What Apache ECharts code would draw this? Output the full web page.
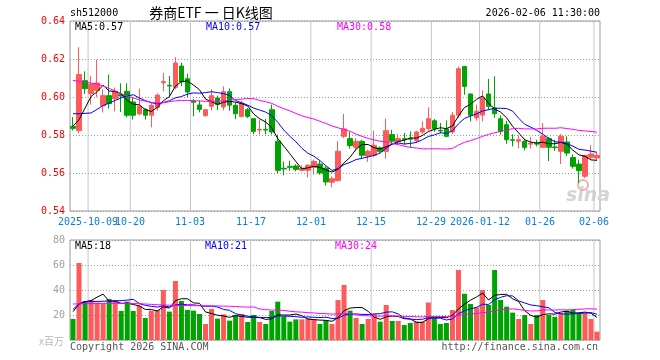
<!DOCTYPE html>
<html><head><meta charset="utf-8">
<script src="https://cdn.jsdelivr.net/npm/echarts@6/dist/echarts.min.js"></script>
<style>html,body{margin:0;padding:0;background:#fff}#c{width:660px;height:360px}</style>
</head><body><div id="c"></div>
<script>
const dates = ['2025-09-26','2025-09-29','2025-09-30','2025-10-09','2025-10-10','2025-10-13','2025-10-14','2025-10-15','2025-10-16','2025-10-17',
'2025-10-20','2025-10-21','2025-10-22','2025-10-23','2025-10-24','2025-10-27','2025-10-28','2025-10-29','2025-10-30','2025-10-31',
'2025-11-03','2025-11-04','2025-11-05','2025-11-06','2025-11-07','2025-11-10','2025-11-11','2025-11-12','2025-11-13','2025-11-14',
'2025-11-17','2025-11-18','2025-11-19','2025-11-20','2025-11-21','2025-11-24','2025-11-25','2025-11-26','2025-11-27','2025-11-28',
'2025-12-01','2025-12-02','2025-12-03','2025-12-04','2025-12-05','2025-12-08','2025-12-09','2025-12-10','2025-12-11','2025-12-12',
'2025-12-15','2025-12-16','2025-12-17','2025-12-18','2025-12-19','2025-12-22','2025-12-23','2025-12-24','2025-12-25','2025-12-26',
'2025-12-29','2025-12-30','2025-12-31','2026-01-05','2026-01-06','2026-01-07','2026-01-08','2026-01-09',
'2026-01-12','2026-01-13','2026-01-14','2026-01-15','2026-01-16','2026-01-19','2026-01-20','2026-01-21','2026-01-22','2026-01-23',
'2026-01-26','2026-01-27','2026-01-28','2026-01-29','2026-01-30','2026-02-02','2026-02-03','2026-02-04','2026-02-05','2026-02-06'];

const opens = [.5845,.5823,.6086,.6018,.6035,.5954,.6007,.5991,.6012,.6030,
.5974,.5911,.5933,.5904,.5945,.6075,.6062,.6051,.6163,.6096,
.5978,.5958,.5902,.5951,.5995,.5948,.6028,.5956,.5898,.5933,
.5886,.5826,.5830,.5933,.5767,.5625,.5635,.5637,.5614,.5614,
.5630,.5647,.5626,.5551,.5560,.5793,.5781,.5735,.5767,.5689,
.5693,.5732,.5714,.5802,.5765,.5781,.5782,.5770,.5816,.5833,
.5875,.5825,.5832,.5816,.5904,.6160,.6016,.5890,.5905,.6016,
.5942,.5886,.5854,.5775,.5767,.5767,.5752,.5755,.5735,.5781,
.5737,.5714,.5763,.5681,.5647,.5583,.5683,.5679];
const closes = [.5835,.6118,.6044,.6068,.6074,.6007,.5965,.6030,.6005,.5904,
.5904,.5951,.5904,.5956,.6010,.6081,.6058,.6179,.6079,.6026,
.5972,.5935,.5933,.6007,.5960,.6028,.5957,.5912,.5968,.5898,
.5819,.5830,.5826,.5816,.5614,.5621,.5630,.5619,.5626,.5640,
.5661,.5600,.5553,.5570,.5714,.5832,.5744,.5767,.5693,.5714,
.5746,.5714,.5823,.5767,.5781,.5775,.5778,.5816,.5835,.5886,
.5833,.5821,.5793,.5904,.6149,.6056,.5904,.5925,.5995,.5951,
.5912,.5819,.5775,.5772,.5775,.5735,.5756,.5752,.5793,.5735,
.5733,.5793,.5705,.5635,.5612,.5693,.5700,.5693];
const lows = [.5824,.5809,.6016,.5960,.6000,.5918,.5939,.5925,.5921,.5893,
.5881,.5904,.5881,.5840,.5928,.6030,.6002,.6042,.6058,.5998,
.5898,.5919,.5896,.5930,.5932,.5930,.5927,.5884,.5893,.5889,
.5805,.5803,.5803,.5803,.5600,.5588,.5612,.5609,.5609,.5577,
.5591,.5591,.5535,.5525,.5556,.5784,.5728,.5714,.5679,.5658,
.5683,.5705,.5675,.5753,.5746,.5749,.5733,.5758,.5805,.5823,
.5816,.5809,.5788,.5805,.5890,.6012,.5872,.5875,.5872,.5933,
.5890,.5802,.5753,.5740,.5730,.5719,.5728,.5740,.5732,.5663,
.5716,.5647,.5689,.5623,.5547,.5574,.5670,.5665];
const highs = [.5895,.6262,.6135,.6110,.6196,.6039,.6118,.6050,.6072,.6072,
.5998,.6044,.5942,.5968,.6019,.6126,.6111,.6209,.6181,.6123,
.5990,.5982,.5938,.6040,.6007,.6056,.6045,.5970,.5981,.5942,
.5889,.5881,.5884,.5960,.5802,.5660,.5665,.5646,.5640,.5647,
.5670,.5665,.5635,.5582,.5767,.5911,.5816,.5784,.5775,.5723,
.5823,.5740,.5886,.5828,.5805,.5811,.5819,.5823,.5872,.5946,
.5884,.5863,.5877,.5921,.6161,.6164,.6016,.5960,.6035,.6095,
.6109,.5903,.5875,.5803,.5798,.5781,.5788,.5775,.5863,.5788,
.5775,.5805,.5793,.5698,.5670,.5696,.5746,.5707];
const volumes = [16.8,61.6,31.2,32,29.9,28.8,32.8,32,23.2,30.7,
23.2,27.5,17.6,23.5,24,40,22.7,47.2,31.2,24,
23.5,20.8,12.8,24.8,17.1,20.5,15.5,20,20.8,14.4,
20,14.4,12.8,23.2,30.7,18.7,14.7,16.5,16.5,17.3,
16.5,12.8,15.5,12.8,32,44,23.5,17.6,12.8,16.8,
20.8,14.7,28,15.2,15.2,12,13.6,14.7,14.7,30,
18.1,12.8,13.6,24,56,37,28.8,26.1,40,28,
56,32,26.7,21.9,16.8,20,12.8,20,32,20,
18.5,21.3,23.5,24,21.5,21.3,16.8,6.7];

// MA values before the window is full
const ma5Lead = [.5846,.5881,.5942,.6003];
const ma10Lead = [.5912,.5912,.5914,.5916,.5935,.5955,.5968,.5982,.5995];
const ma30Lead = [.6087,.6083,.6078,.6073,.6068,.6058,.6045,.6032,.6018,.6005,.5995,.5985,.5978,.5972,.5968,.5970,.5975,.5980,.5982,.5982,.5981,.5979,.5977,.5977,.5978,.5980,.5983,.5986,.5989];
const volMa5Lead = [22.7,28.8,30.7,31.5];
const volMa10Lead = [24.5,29,30.5,30.7,30.9,31,31.2,31.3,31.5];
const volMa30Lead = [28.8,28.9,29,29.1,29.2,29.3,29.3,29.3,29.3,29.3,29.2,29,28.8,28.5,28.2,28,27.8,27.7,27.6,27.6,27.5,27.5,27.4,27.3,27.2,27.1,27,26.8,26.5];

const tickDates = ['2025-10-09','2025-10-20','2025-11-03','2025-11-17','2025-12-01','2025-12-15','2025-12-29','2026-01-12','2026-01-26','2026-02-06'];
const tickTexts = ['2025-10-09','10-20','11-03','11-17','12-01','12-15','12-29','2026-01-12','01-26','02-06'];
const priceTicks = [0.54,0.56,0.58,0.60,0.62,0.64];
const volTicks = [0,20,40,60,80];

const titleCode = 'sh512000';
const titleText = '券商ETF 一 日K线图';
const timeText = '2026-02-06 11:30:00';
const priceLegend = ['MA5:0.57','MA10:0.57','MA30:0.58'];
const volLegend = ['MA5:18','MA10:21','MA30:24'];
const unitText = 'x百万';
const copyText = 'Copyright 2026 SINA.COM';
const urlText = 'http://finance.sina.com.cn';

function rolling(src, n, lead) {
  return src.map((_, i) => {
    if (i < n - 1) return lead[i];
    let s = 0; for (let k = i - n + 1; k <= i; k++) s += src[k];
    return +(s / n).toFixed(5);
  });
}
const ma5 = rolling(closes, 5, ma5Lead), ma10 = rolling(closes, 10, ma10Lead), ma30 = rolling(closes, 30, ma30Lead);
const vma5 = rolling(volumes, 5, volMa5Lead), vma10 = rolling(volumes, 10, volMa10Lead), vma30 = rolling(volumes, 30, volMa30Lead);

const RED = '#ff5a5a', GREEN = '#00a400';
const MONO = "'DejaVu Sans Mono', monospace";
const candleData = dates.map((d, i) => [opens[i], closes[i], lows[i], highs[i]]);
const volData = dates.map((d, i) => ({ value: volumes[i], itemStyle: { color: closes[i] >= opens[i] ? RED : GREEN } }));

const tickIdx = tickDates.map(d => dates.indexOf(d));

const catAxis = (gridIndex) => ({
  type: 'category', gridIndex, data: dates, boundaryGap: true,
  axisLine: { show: false }, axisTick: { show: false }, splitLine: { show: false }, axisLabel: { show: false }
});
// hidden value axis spanning the same day slots: date separators sit on slot boundaries
const slotAxis = (gridIndex) => ({ type: 'value', gridIndex, min: -0.5, max: dates.length - 0.5, show: false });

// date labels under the price panel
const labelSeries = {
  type: 'custom', xAxisIndex: 2, yAxisIndex: 0, clip: false, silent: true, z: 6,
  data: tickIdx.map((i, k) => [i - 0.5, priceTicks[0], k]),
  encode: { x: 0, y: 1 },
  renderItem: (params, api) => {
    const cs = params.coordSys;
    const x = Math.round(api.coord([api.value(0), api.value(1)])[0]);
    return { type: 'text', x: x, y: cs.y + cs.height + 11,
      style: { text: tickTexts[api.value(2)], fill: '#0a7fd4', font: '10px ' + MONO, textAlign: 'center', textVerticalAlign: 'middle' } };
  }
};
// date separators: 1px bars standing on the slot boundaries of each panel
const sepBar = (xi, yi, ticks) => ({
  type: 'bar', xAxisIndex: xi, yAxisIndex: yi, silent: true, z: 3, barWidth: 1,
  data: tickIdx.map(i => [i - 0.5, ticks[ticks.length - 1]]),
  itemStyle: { color: '#c6c6c6' }
});
const lineS = (name, data, color, xi, yi) => ({ name, type: 'line', data, xAxisIndex: xi, yAxisIndex: yi, showSymbol: false, symbol: 'none', silent: true, lineStyle: { color, width: 1 }, z: 5 });

const txt = (x, y, text, fill, font, align) => ({ type: 'text', x, y, silent: true, z: 10, style: { text, fill, font, textAlign: align || 'left', textVerticalAlign: 'middle' } });

const chart = echarts.init(document.getElementById('c'), null, { renderer: 'canvas' });
chart.setOption({
  animation: false,
  backgroundColor: '#ffffff',
  grid: [
    { left: 70, top: 21, width: 530, height: 190, show: true, backgroundColor: 'transparent', borderColor: '#9a9a9a', borderWidth: 1 },
    { left: 70, top: 240, width: 530, height: 100, show: true, backgroundColor: 'transparent', borderColor: '#9a9a9a', borderWidth: 1 }
  ],
  xAxis: [catAxis(0), catAxis(1), slotAxis(0), slotAxis(1)],
  yAxis: [
    { type: 'value', gridIndex: 0, min: priceTicks[0], max: priceTicks[priceTicks.length - 1], interval: 0.02,
      axisLine: { show: false }, axisTick: { show: false },
      axisLabel: { color: '#ff0000', fontFamily: MONO, fontSize: 10, margin: 5, formatter: v => v.toFixed(2) },
      splitLine: { lineStyle: { color: '#999999', type: [1, 2] } } },
    { type: 'value', gridIndex: 1, min: volTicks[0], max: volTicks[volTicks.length - 1], interval: 20,
      axisLine: { show: false }, axisTick: { show: false },
      axisLabel: { color: '#a0a0a0', fontFamily: MONO, fontSize: 10, margin: 5, formatter: v => v === 0 ? '' : String(v) },
      splitLine: { lineStyle: { color: '#999999', type: [1, 2] } } }
  ],
  series: [
    labelSeries, sepBar(2, 0, priceTicks), sepBar(3, 1, volTicks),
    { type: 'candlestick', xAxisIndex: 0, yAxisIndex: 0, data: candleData, barWidth: 5, silent: true, z: 4,
      itemStyle: { color: RED, color0: GREEN, borderColor: RED, borderColor0: GREEN, borderWidth: 1 } },
    lineS('MA5', ma5, '#000000', 0, 0),
    lineS('MA10', ma10, '#0000ff', 0, 0),
    lineS('MA30', ma30, '#ff00ff', 0, 0),
    { type: 'bar', xAxisIndex: 1, yAxisIndex: 1, data: volData, barWidth: 5, silent: true, z: 4 },
    lineS('VMA5', vma5, '#000000', 1, 1),
    lineS('VMA10', vma10, '#0000ff', 1, 1),
    lineS('VMA30', vma30, '#ff00ff', 1, 1)
  ],
  graphic: [
    txt(70, 13, titleCode, '#000', '10px ' + MONO),
    txt(211, 13, titleText, '#000', "14px 'Noto Sans CJK SC'", 'center'),
    txt(600, 13, timeText, '#000', '10px ' + MONO, 'right'),
    txt(75, 27, priceLegend[0], '#000000', '10px ' + MONO),
    txt(206, 27, priceLegend[1], '#0000ff', '10px ' + MONO),
    txt(337, 27, priceLegend[2], '#ff00ff', '10px ' + MONO),
    txt(75, 246, volLegend[0], '#000000', '10px ' + MONO),
    txt(205, 246, volLegend[1], '#0000ff', '10px ' + MONO),
    txt(335, 246, volLegend[2], '#ff00ff', '10px ' + MONO),
    txt(64, 341, unitText, '#b8b8b8', "10px 'Noto Sans CJK SC'", 'right'),
    txt(70, 347, copyText, '#555555', '10px ' + MONO),
    txt(598, 347, urlText, '#555555', '10px ' + MONO, 'right'),
    { type: 'text', x: 566, y: 196, silent: true, style: { text: 'sina', fill: '#d4d4d4', font: "italic bold 19px 'DejaVu Sans'", textVerticalAlign: 'middle' } },
    { type: 'circle', shape: { cx: 583, cy: 185, r: 5 }, silent: true, style: { fill: 'none', stroke: '#eab0b0', lineWidth: 2 } }
  ]
});
</script></body></html>
